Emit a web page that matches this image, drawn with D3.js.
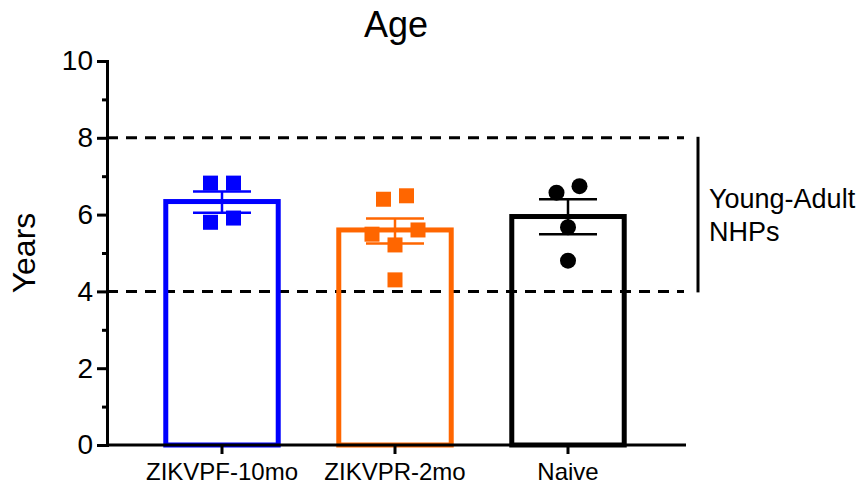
<!DOCTYPE html>
<html>
<head>
<meta charset="utf-8">
<script src="https://cdn.jsdelivr.net/npm/d3@7"></script>
<style>
  body { margin: 0; background: #fff; }
  text { font-family: "Liberation Sans", Arial, sans-serif; fill: #000; }
</style>
</head>
<body>
<svg width="863" height="484"></svg>
<script>
// data
const categories = ["ZIKVPF-10mo", "ZIKVPR-2mo", "Naive"];
const barColors = ["#0000ff", "#ff6600", "#000000"];
const means = [6.34, 5.60, 5.95];
const semLow = [6.05, 5.25, 5.49];
const semHigh = [6.60, 5.90, 6.40];
const pointsPF = [6.82, 6.82, 5.80, 5.91];
const pointsPR = [6.40, 6.49, 5.49, 5.60, 5.21, 4.30];
const pointsNaive = [6.57, 6.74, 5.67, 4.80];
const yTicks = [0, 2, 4, 6, 8, 10];
const yMinorTicks = [1, 3, 5, 7, 9];
const refLines = [4, 8];
const bracketLabel = ["Young-Adult", "NHPs"];

const groups = [pointsPF, pointsPR, pointsNaive];
// horizontal scatter of the points, in units of one point width
const jitter = [[-1, 1, -1, 1], [-1, 1, -2, 2, 0, 0], [-1, 1, 0, 0]];

const svg = d3.select("svg");

const y = d3.scaleLinear().domain([0, 10]).range([445, 61]);
const x = d3.scaleBand()
    .domain(categories)
    .range([135.5, 654.5])
    .paddingInner(0.35)
    .paddingOuter(0.175);

const axisLeftX = 107, axisRightX = 686;

// reference dashed lines
svg.selectAll(".ref")
    .data(refLines)
    .enter()
    .append("line")
    .attr("class", "ref")
    .attr("x1", axisLeftX)
    .attr("x2", 684)
    .attr("y1", d => y(d))
    .attr("y2", d => y(d))
    .attr("stroke", "#000")
    .attr("stroke-width", 3)
    .attr("stroke-dasharray", "11,8");

// bracket
svg.append("line")
    .attr("x1", 698).attr("x2", 698)
    .attr("y1", y(8) - 1).attr("y2", y(4) + 1)
    .attr("stroke", "#000")
    .attr("stroke-width", 3);

svg.selectAll(".bracket-label")
    .data(bracketLabel)
    .enter()
    .append("text")
    .attr("class", "bracket-label")
    .attr("x", 709)
    .attr("y", (d, i) => 208 + i * 33)
    .style("font-size", "27px")
    .text(d => d);

// bars
svg.selectAll(".bar")
    .data(categories)
    .enter()
    .append("rect")
    .attr("class", "bar")
    .attr("x", d => x(d))
    .attr("width", x.bandwidth())
    .attr("y", (d, i) => y(means[i]))
    .attr("height", (d, i) => y(0) - y(means[i]))
    .attr("fill", "none")
    .attr("stroke", (d, i) => barColors[i])
    .attr("stroke-width", 5);

// error bars
const capHalf = 29;
categories.forEach((c, i) => {
    const cx = x(c) + x.bandwidth() / 2;
    const g = svg.append("g")
        .attr("stroke", barColors[i])
        .attr("stroke-width", 2.5);
    g.append("line")
        .attr("x1", cx).attr("x2", cx)
        .attr("y1", y(semHigh[i])).attr("y2", y(semLow[i]));
    g.selectAll(".cap")
        .data([semHigh[i], semLow[i]])
        .enter()
        .append("line")
        .attr("x1", cx - capHalf).attr("x2", cx + capHalf)
        .attr("y1", d => y(d)).attr("y2", d => y(d));
});

// individual points
const ptStep = 11.5, sq = 15, r = 8;
categories.forEach((c, i) => {
    const cx = x(c) + x.bandwidth() / 2;
    const data = groups[i].map((v, j) => ({v: v, dx: jitter[i][j] * ptStep}));
    if (i < 2) {
        svg.selectAll(".pt" + i)
            .data(data)
            .enter()
            .append("rect")
            .attr("class", "pt" + i)
            .attr("x", d => cx + d.dx - sq / 2)
            .attr("y", d => y(d.v) - sq / 2)
            .attr("width", sq)
            .attr("height", sq)
            .attr("fill", barColors[i]);
    } else {
        svg.selectAll(".pt" + i)
            .data(data)
            .enter()
            .append("circle")
            .attr("class", "pt" + i)
            .attr("cx", d => cx + d.dx)
            .attr("cy", d => y(d.v))
            .attr("r", r)
            .attr("fill", barColors[i]);
    }
});

// y axis
const yAxis = svg.append("g")
    .attr("transform", `translate(${axisLeftX},0)`)
    .call(d3.axisLeft(y).tickValues(yTicks).tickSize(10).tickSizeOuter(0).tickPadding(4));
yAxis.select(".domain").attr("stroke-width", 3).attr("stroke-linecap", "square");
yAxis.selectAll(".tick line").attr("stroke-width", 3);
yAxis.selectAll(".tick text")
    .style("font-size", "28px")
    .attr("font-family", null);

const yMinor = svg.append("g")
    .attr("transform", `translate(${axisLeftX},0)`)
    .call(d3.axisLeft(y).tickValues(yMinorTicks).tickSize(5).tickFormat(""));
yMinor.select(".domain").remove();
yMinor.selectAll(".tick line").attr("stroke-width", 3);

// x axis
svg.append("line")
    .attr("x1", axisLeftX).attr("x2", axisRightX)
    .attr("y1", y(0)).attr("y2", y(0))
    .attr("stroke", "#000")
    .attr("stroke-width", 3);

const xAxis = svg.append("g")
    .attr("transform", `translate(0,${y(0)})`)
    .call(d3.axisBottom(x).tickSize(9).tickPadding(9));
xAxis.select(".domain").remove();
xAxis.selectAll(".tick line").attr("stroke-width", 3);
xAxis.selectAll(".tick text")
    .style("font-size", "24px")
    .attr("font-family", null);

// title and axis label
svg.append("text")
    .attr("x", 396)
    .attr("y", 37)
    .attr("text-anchor", "middle")
    .style("font-size", "36px")
    .text("Age");

svg.append("text")
    .attr("transform", "rotate(-90)")
    .attr("x", -253)
    .attr("y", 35)
    .attr("text-anchor", "middle")
    .style("font-size", "32px")
    .text("Years");
</script>
</body>
</html>
